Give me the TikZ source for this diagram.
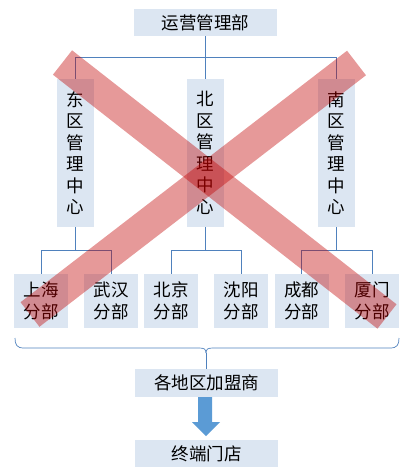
\documentclass[tikz,border=0pt]{standalone}
\usepackage{fontspec}
\newfontfamily\cjk{Noto Sans CJK SC}
\definecolor{boxfill}{RGB}{220,230,242}
\definecolor{linecol}{RGB}{79,129,189}
\definecolor{arrowcol}{RGB}{91,155,213}
\definecolor{crosscol}{RGB}{192,0,0}
\tikzset{
  cbox/.style={fill=boxfill, inner sep=0pt, align=center, text=black,
    font=\cjk\fontsize{17.5}{21.5}\selectfont},
  wide/.style={cbox, minimum width=143pt, minimum height=27pt},
  tall/.style={cbox, minimum width=37pt, minimum height=148pt},
  small/.style={cbox, minimum width=54pt, minimum height=54pt, font=\cjk\fontsize{17.5}{22}\selectfont},
  conn/.style={draw=linecol, line width=0.8pt},
  band/.style={draw=crosscol, draw opacity=0.4, line width=31pt, line cap=butt}
}
\begin{document}
\begin{tikzpicture}[x=1pt,y=-1pt]
\useasboundingbox (0,0) rectangle (411,476);
% boxes
\node[wide] (top) at (205.5,22.5) {运营管理部};
\node[tall] (eb) at (75.5,153) {东\\区\\管\\理\\中\\心};
\node[tall] (nb) at (205,153) {北\\区\\管\\理\\中\\心};
\node[tall] (sb) at (336,153) {南\\区\\管\\理\\中\\心};
\node[small] (b1) at (41,301) {上海\\分部};
\node[small] (b2) at (111,301) {武汉\\分部};
\node[small] (b3) at (171,301) {北京\\分部};
\node[small] (b4) at (241,301) {沈阳\\分部};
\node[small] (b5) at (301.5,301) {成都\\分部};
\node[small] (b6) at (372,301) {厦门\\分部};
\node[wide, minimum height=28pt] (fr) at (206.5,383) {各地区加盟商};
\node[wide] (st) at (206.5,453.5) {终端门店};
% connectors
\draw[conn] (top.south) -- (top.south |- nb.north);
\draw[conn] (eb.north) -- ++(0,-21) -| (sb.north);
\draw[conn] (eb.south) -- ++(0,24);
\draw[conn] (nb.south) -- ++(0,24);
\draw[conn] (sb.south) -- ++(0,24);
\draw[conn] (b1.north) -- ++(0,-23) -| (b2.north);
\draw[conn] (b3.north) -- ++(0,-23) -| (b4.north);
\draw[conn] (b5.north) -- ++(0,-23) -| (b6.north);
% brace
\coordinate (bl) at (15,338);
\coordinate (br) at (399,338);
\coordinate (bt) at (206,353);
\draw[conn, line width=0.7pt] (bl) .. controls (15,345) and (17,348) .. (24,348) -- (199,348)
  .. controls (204,348) and (206,349) .. (bt);
\draw[conn, line width=0.7pt] (br) .. controls (399,345) and (397,348) .. (390,348) -- (213,348)
  .. controls (208,348) and (206,349) .. (bt);
\draw[conn, line width=0.7pt] (bt) -- (bt |- fr.north);
% arrow
\fill[arrowcol] (198,397) -- (212,397) -- (212,422) -- (220,422) -- (206,436) -- (192,422) -- (198,422) -- cycle;
% red cross
\draw[band] (62.5,62.5) -- (387,316.5);
\draw[band] (356.5,63) -- (30,314.5);
\end{tikzpicture}
\end{document}
